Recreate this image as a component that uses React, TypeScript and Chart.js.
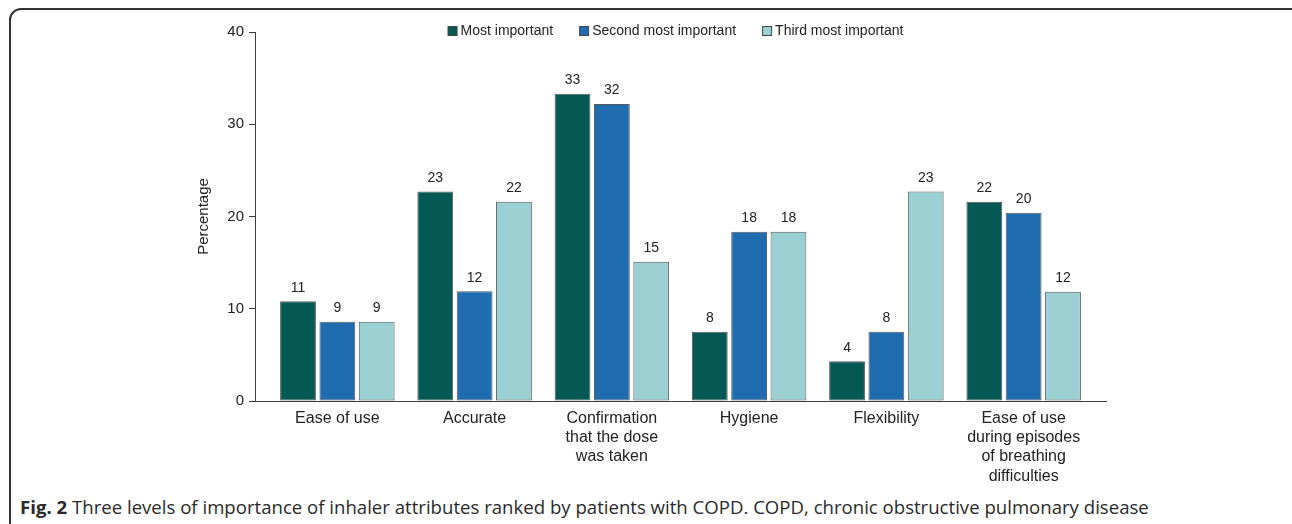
import React, { useEffect, useRef } from "react";
import { Chart, registerables } from "chart.js";

Chart.register(...registerables);

const categories: (string | string[])[] = [
  "Ease of use",
  "Accurate",
  ["Confirmation", "that the dose", "was taken"],
  "Hygiene",
  "Flexibility",
  ["Ease of use", "during episodes", "of breathing", "difficulties"],
];

const mostImportant = [10.8, 22.7, 33.3, 7.5, 4.3, 21.6];
const secondMostImportant = [8.6, 11.9, 32.2, 18.35, 7.5, 20.4];
const thirdMostImportant = [8.6, 21.6, 15.1, 18.35, 22.7, 11.85];

const seriesNames = ["Most important", "Second most important", "Third most important"];
const seriesColors = ["#045954", "#1f6cb0", "#9bd0d3"];

const yTicks = [0, 10, 20, 30, 40];

const FONT = "'Liberation Sans', Arial, Helvetica, sans-serif";

const valueLabels = {
  id: "valueLabels",
  afterDatasetsDraw(chart: any) {
    const ctx = chart.ctx;
    ctx.save();
    ctx.font = `14px ${FONT}`;
    ctx.fillStyle = "#222";
    ctx.textAlign = "center";
    ctx.textBaseline = "middle";
    chart.data.datasets.forEach((ds: any, di: number) => {
      const meta = chart.getDatasetMeta(di);
      meta.data.forEach((bar: any, i: number) => {
        const v = ds.data[i].y;
        ctx.fillText(String(Math.round(v)), bar.x, bar.y - 13.5);
      });
    });
    ctx.restore();
  },
};

const topLegend = {
  id: "topLegend",
  afterDraw(chart: any) {
    const ctx = chart.ctx;
    ctx.save();
    ctx.font = `14px ${FONT}`;
    ctx.textBaseline = "middle";
    ctx.textAlign = "left";
    const box = 10;
    const gapBoxText = 3;
    const gapItems = 26;
    const items = chart.data.datasets.map((ds: any) => ({
      label: ds.label,
      color: ds.backgroundColor,
      w: box + gapBoxText + ctx.measureText(ds.label).width,
    }));
    const total = items.reduce((s: number, it: any) => s + it.w, 0) + gapItems * (items.length - 1);
    const center = (chart.chartArea.left + chart.chartArea.right) / 2 - 5;
    let x = center - total / 2;
    const y = 31;
    items.forEach((it: any) => {
      ctx.fillStyle = it.color;
      ctx.fillRect(x + 0.5, y - box / 2 + 0.5, box - 1, box - 1);
      ctx.strokeStyle = "#444";
      ctx.lineWidth = 1;
      ctx.strokeRect(x + 0.5, y - box / 2 + 0.5, box - 1, box - 1);
      ctx.fillStyle = "#222";
      ctx.fillText(it.label, x + box + gapBoxText, y + 0.5);
      x += it.w + gapItems;
    });
    ctx.restore();
  },
};

export default function App() {
  const ref = useRef<HTMLCanvasElement | null>(null);

  useEffect(() => {
    if (!ref.current) return;
    const series = [mostImportant, secondMostImportant, thirdMostImportant];
    const chart = new Chart(ref.current, {
      type: "bar",
      data: {
        datasets: series.map((vals, si) => ({
          label: seriesNames[si],
          data: vals.map((v, i) => ({ x: i, y: v })),
          backgroundColor: seriesColors[si],
          borderColor: "#5a5a5a",
          borderWidth: 1,
          borderSkipped: false,
          categoryPercentage: 0.86,
          barPercentage: 0.91,
        })),
      },
      options: {
        animation: false,
        responsive: false,
        devicePixelRatio: 1,
        layout: { padding: { left: 190, right: 186, top: 32, bottom: 0 } },
        plugins: {
          legend: { display: false },
          tooltip: { enabled: false },
        },
        scales: {
          x: {
            type: "linear",
            min: -0.6,
            max: 5.6,
            offset: false,
            afterBuildTicks: (scale: any) => {
              scale.ticks = categories.map((_, i) => ({ value: i }));
            },
            afterFit: (scale: any) => {
              scale.height = 90;
            },
            grid: { display: false, drawTicks: false, offset: false },
            border: { display: true, color: "#3c3c3c", width: 1 },
            ticks: {
              autoSkip: false,
              maxRotation: 0,
              minRotation: 0,
              padding: 8,
              color: "#222",
              font: { family: FONT, size: 16, lineHeight: 1.2 },
              callback: (value: any) => {
                const i = Math.round(Number(value));
                return categories[i] ?? "";
              },
            },
          },
          y: {
            min: 0,
            max: 40,
            afterBuildTicks: (scale: any) => {
              scale.ticks = yTicks.map((v) => ({ value: v }));
            },
            afterFit: (scale: any) => {
              scale.width = 65;
            },
            grid: { drawOnChartArea: false, drawTicks: true, tickLength: 6, color: "#3c3c3c" },
            border: { display: true, color: "#3c3c3c", width: 1 },
            ticks: {
              padding: 5,
              color: "#222",
              font: { family: FONT, size: 15 },
            },
            title: {
              display: true,
              text: "Percentage",
              color: "#222",
              font: { family: FONT, size: 15, lineHeight: 1.2 },
              padding: { top: 5, bottom: 0 },
            },
          },
        },
      },
      plugins: [valueLabels, topLegend],
    });
    return () => chart.destroy();
  }, []);

  return (
    <div
      style={{
        position: "fixed",
        left: 0,
        top: 0,
        width: 1292,
        height: 524,
        overflow: "hidden",
        background: "#fff",
      }}
    >
      <div
        style={{
          position: "absolute",
          left: 9,
          top: 8,
          width: 1300,
          height: 560,
          border: "2px solid #333",
          borderRadius: 12,
          boxSizing: "border-box",
        }}
      />
      <canvas
        ref={ref}
        width={1292}
        height={491}
        style={{ position: "absolute", left: 0, top: 0, width: 1292, height: 491 }}
      />
      <div
        style={{
          position: "absolute",
          left: 20,
          top: 494,
          fontFamily: "'Open Sans', sans-serif",
          fontSize: 18.6,
          color: "#2a2a2a",
          whiteSpace: "nowrap",
          lineHeight: "26px",
        }}
      >
        <b>Fig. 2</b> Three levels of importance of inhaler attributes ranked by patients with COPD. COPD, chronic
        obstructive pulmonary disease
      </div>
    </div>
  );
}
